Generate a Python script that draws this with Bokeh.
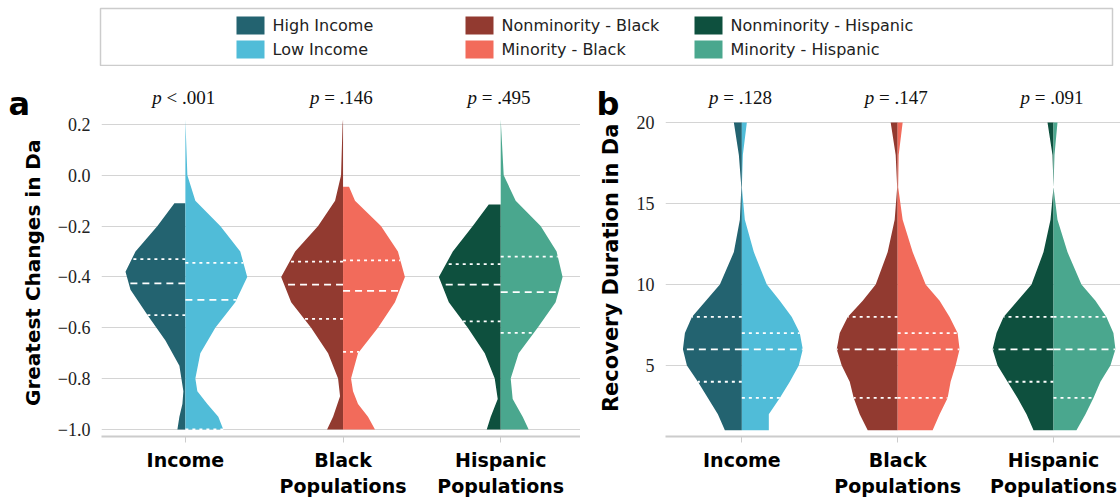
import numpy as np
from bokeh.plotting import figure
from bokeh.layouts import column, row
from bokeh.models import FixedTicker, Range1d
from bokeh.embed import file_html
from bokeh.resources import INLINE
from bokeh.core.properties import value

categories = ["Income", "Black\nPopulations", "Hispanic\nPopulations"]
colors_dark = ["#236370", "#923a30", "#0e503e"]
colors_light = ["#50bcd8", "#f26b5b", "#4aa78e"]
legend_labels = ["High Income", "Low Income", "Nonminority - Black", "Minority - Black",
                 "Nonminority - Hispanic", "Minority - Hispanic"]
p_a = [("p", "\u00a0< .001"), ("p", "\u00a0= .146"), ("p", "\u00a0= .495")]
p_b = [("p", "\u00a0= .128"), ("p", "\u00a0= .147"), ("p", "\u00a0= .091")]

a_dark = [
    ([-0.11, -0.2, -0.3, -0.38, -0.45, -0.55, -0.65, -0.75, -0.85, -0.9, -0.95, -1.0],
     [11, 28, 50, 60, 55, 38, 20, 6, 2, 3, 6, 8]),
    ([0.22, 0.2, 0.0, -0.1, -0.2, -0.3, -0.4, -0.5, -0.6, -0.7, -0.8, -0.87, -0.95, -1.0],
     [0, 0.5, 2, 8, 25, 48, 62, 52, 32, 15, 5, 3, 10, 16]),
    ([-0.115, -0.2, -0.3, -0.4, -0.5, -0.6, -0.7, -0.8, -0.88, -0.95, -1.0],
     [12, 28, 48, 62, 52, 33, 16, 6, 3, 10, 14]),
]
a_light = [
    ([0.22, 0.0, -0.1, -0.2, -0.3, -0.4, -0.5, -0.6, -0.7, -0.8, -0.85, -0.9, -0.95, -1.0],
     [0, 2, 10, 35, 55, 62, 50, 30, 15, 10, 12, 22, 33, 38]),
    ([-0.045, -0.1, -0.2, -0.3, -0.4, -0.5, -0.6, -0.7, -0.8, -0.85, -0.9, -0.95, -1.0],
     [6, 12, 38, 55, 62, 52, 35, 15, 8, 10, 15, 25, 32]),
    ([0.22, 0.0, -0.1, -0.2, -0.3, -0.4, -0.5, -0.6, -0.7, -0.8, -0.88, -0.95, -1.0],
     [0, 3, 15, 40, 56, 62, 55, 37, 18, 10, 12, 22, 28]),
]
a_q_dark = [(-0.33, -0.425, -0.55), (-0.34, -0.43, -0.565), (-0.35, -0.43, -0.575)]
a_q_light = [(-0.345, -0.49, -1.0), (-0.335, -0.455, -0.695), (-0.32, -0.46, -0.62)]

b_y = [20, 18, 16, 14, 12, 10, 9, 8, 7, 6, 5, 4, 3, 2, 1]
b_dark = [
    [8, 3, 0.5, 2, 8, 22, 36, 50, 57, 59, 55, 44, 34, 24, 17],
    [7, 2, 0.5, 3, 10, 22, 35, 50, 58, 61, 56, 48, 44, 38, 30],
    [6, 1, 0, 3, 10, 22, 36, 50, 57, 61, 56, 46, 36, 27, 20],
]
b_light = [
    [5, 1, 0, 3, 12, 25, 38, 50, 58, 61, 57, 48, 38, 27, 27],
    [5, 1, 0.5, 5, 15, 28, 42, 52, 60, 62, 58, 53, 50, 42, 35],
    [4, 1, 0, 4, 14, 28, 42, 53, 60, 62, 57, 47, 40, 32, 23],
]
b_q_dark = [(8, 6, 4), (8, 6, 3), (8, 6, 4)]
b_q_light = [(7, 6, 3), (7, 6, 3), (8, 6, 3)]

SERIF = "Liberation Serif"
SANS = "DejaVu Sans"
FH = 356
PH = 432


def make_panel(yr, yticks, xr, pxunit, darks, lights, qd, ql, plabs, ply, width, bl, fmt):
    p = figure(width=width, frame_height=FH, output_backend="svg", toolbar_location=None,
               x_range=Range1d(*xr), y_range=Range1d(*yr),
               min_border_left=bl, min_border_right=0, min_border_top=14, min_border_bottom=10)
    p.outline_line_color = None
    p.xgrid.grid_line_color = None
    p.ygrid.grid_line_color = "#d4d4d4"
    p.ygrid.grid_line_width = 1.2
    p.yaxis.ticker = FixedTicker(ticks=yticks)
    p.yaxis.major_label_overrides = {t: fmt(t) for t in yticks}
    p.yaxis.axis_line_color = None
    p.yaxis.major_tick_line_color = None
    p.yaxis.minor_tick_line_color = None
    p.yaxis.major_label_text_font = "serif"
    p.yaxis.major_label_text_font_size = "18px"
    p.yaxis.major_label_text_color = "#222"
    p.yaxis.major_label_standoff = 5
    p.xaxis.ticker = FixedTicker(ticks=[0, 1, 2])
    p.xaxis.major_label_overrides = {i: c for i, c in enumerate(categories)}
    p.xaxis.axis_line_color = "#cccccc"
    p.xaxis.axis_line_width = 2
    p.xaxis.major_tick_line_color = "#cccccc"
    p.xaxis.major_tick_in = 0
    p.xaxis.major_tick_out = 6
    p.xaxis.minor_tick_line_color = None
    p.xaxis.major_label_text_font = SANS
    p.xaxis.major_label_text_font_style = "bold"
    p.xaxis.major_label_text_font_size = "19px"
    p.xaxis.major_label_text_color = "black"
    p.xaxis.major_label_standoff = 6
    for i in range(3):
        for side, data, col, qs in ((-1, darks[i], colors_dark[i], qd[i]),
                                    (1, lights[i], colors_light[i], ql[i])):
            ys, ws = data
            ys = np.array(ys, float)
            ws = np.array(ws, float) / pxunit
            xs = i + side * ws
            px = [i] + list(xs) + [i]
            py = [ys[0]] + list(ys) + [ys[-1]]
            p.patch(px, py, fill_color=col, line_color=None)
            order = np.argsort(ys)
            for k, q in enumerate(qs):
                w = np.interp(q, ys[order], ws[order])
                dash = "7 5" if k == 1 else "3 4"
                p.line([i, i + side * w], [q, q], line_color="white", line_width=1.8,
                       line_dash=dash)
    xs = [i - 0.15 for i in range(3)]
    p.text(x=xs, y=[ply] * 3, text=[a for a, b in plabs], text_font=value(SERIF),
           text_font_style="italic", text_font_size="19px", text_align="right",
           text_baseline="middle", text_color="#111")
    p.text(x=xs, y=[ply] * 3, text=[b for a, b in plabs], text_font=value(SERIF),
           text_font_size="19px", text_align="left", text_baseline="middle", text_color="#111")
    return p


def side_fig(width, letter, lx, ylabel, yx, yc, fs):
    f = figure(width=width, height=PH, output_backend="svg", toolbar_location=None,
               x_range=Range1d(0, width), y_range=Range1d(0, PH), min_border=0)
    f.axis.visible = False
    f.grid.visible = False
    f.outline_line_color = None
    f.text(x=[lx], y=[PH - 29], text=[letter], text_font=value(SANS), text_font_style="bold",
           text_font_size="32px", text_baseline="middle", text_color="black")
    f.text(x=[yx], y=[PH - yc], text=[ylabel], text_font=value(SANS), text_font_style="bold",
           text_font_size=fs, text_baseline="middle", text_align="center",
           angle=np.pi / 2, text_color="black")
    return f


pa = make_panel((-1.028, 0.373), [0.2, 0.0, -0.2, -0.4, -0.6, -0.8, -1.0], (-0.532, 2.506), 158,
                a_dark, a_light, a_q_dark, a_q_light, p_a, 0.306, 526, 46,
                lambda t: ("%.1f" % t).replace("-", "\u2212"))
bd = [(b_y, w) for w in b_dark]
bl_ = [(b_y, w) for w in b_light]
pb = make_panel((0.62, 22.59), [5, 10, 15, 20], (-0.49, 2.43), 156,
                bd, bl_, b_q_dark, b_q_light, p_b, 21.54, 494, 39, lambda t: "%d" % t)
fa = side_fig(54, "a", 8, "Greatest Changes in Da", 32, 234, "20px")
fb = side_fig(46, "b", 16, "Recovery Duration in Da", 30, 228, "21px")

lg = figure(width=1120, height=66, output_backend="svg", toolbar_location=None,
            x_range=Range1d(0, 1120), y_range=Range1d(0, 66), min_border=0)
lg.axis.visible = False
lg.grid.visible = False
lg.outline_line_color = None
lg.quad(left=100, right=1112, bottom=1, top=58, fill_color="white", line_color="#cccccc",
        line_width=1.5)
col_x = [236, 465, 694]
row_y = [41, 17]
leg_cols = [colors_dark[0], colors_light[0], colors_dark[1], colors_light[1],
            colors_dark[2], colors_light[2]]
lx, ly = [], []
for k in range(6):
    lx.append(col_x[k // 2])
    ly.append(row_y[k % 2])
lg.rect(x=[v + 14 for v in lx], y=ly, width=28, height=18, fill_color=leg_cols, line_color=None)
lg.text(x=[v + 36 for v in lx], y=ly, text=legend_labels, text_font=value(SANS),
        text_font_size="16px", text_baseline="middle", text_color="#222")

layout = column(lg, row(fa, pa, fb, pb, spacing=0), spacing=0)
open("out.html", "w").write(file_html(layout, INLINE))
